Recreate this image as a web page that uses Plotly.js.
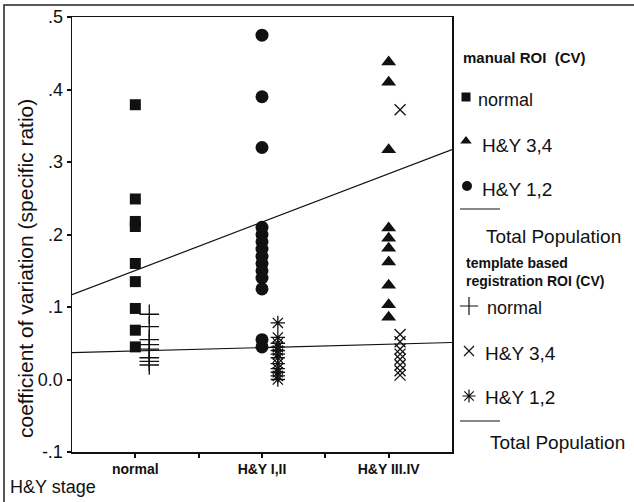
<!DOCTYPE html>
<html>
<head>
<meta charset="utf-8">
<script src="https://cdn.plot.ly/plotly-3.0.1.min.js"></script>
<style>html,body{margin:0;padding:0;background:#fff;}#chart{width:634px;height:502px;}</style>
</head>
<body>
<div id="chart"></div>
<script>
// Categories (H&Y stage) and tick labels
const categories = ['normal', 'H&Y I,II', 'H&Y III.IV'];
const categoryPos = [1, 3, 5];
const yTickVals = [-0.1, 0, 0.1, 0.2, 0.3, 0.4, 0.5];
const yTickText = ['-.1', '0.0', '.1', '.2', '.3', '.4', '.5'];

// manual ROI (CV)
const manualNormal = [0.379, 0.249, 0.218, 0.211, 0.16, 0.135, 0.098, 0.068, 0.045];
const manualHY12 = [0.475, 0.39, 0.32, 0.21, 0.2, 0.19, 0.18, 0.17, 0.16, 0.15, 0.14, 0.125, 0.055, 0.045];
const manualHY34 = [0.438, 0.41, 0.317, 0.209, 0.195, 0.181, 0.162, 0.13, 0.103, 0.086];
const manualFitX = [0, 6];
const manualFitY = [0.117, 0.317];

// template based registration ROI (CV)
const templateNormal = [0.09, 0.073, 0.055, 0.048, 0.042, 0.03, 0.025, 0.02];
const templateHY12 = [0.078, 0.058, 0.05, 0.045, 0.04, 0.035, 0.03, 0.022, 0.015, 0.01, 0.005, 0.0];
const templateHY34 = [0.372, 0.062, 0.052, 0.042, 0.035, 0.028, 0.02, 0.012, 0.006];
const templateFitX = [0, 6];
const templateFitY = [0.037, 0.051];

const W = 634, H = 502;
const plotL = 72, plotR = 452, plotT = 17, plotB = 452;
const tmplOffset = [0.22, 0.25, 0.18];

function rep(v, n) { return new Array(n).fill(v); }

const black = '#111';
const traces = [];
function pts(ys, x, sym, size, open) {
  const m = {symbol: sym, size: size, color: black};
  if (open) m.line = {color: black, width: 1.3};
  traces.push({type: 'scatter', mode: 'markers', x: rep(x, ys.length), y: ys,
    marker: m, xaxis: 'x', yaxis: 'y', showlegend: false, hoverinfo: 'y'});
}
pts(manualNormal, categoryPos[0], 'square', 11, false);
pts(manualHY12, categoryPos[1], 'circle', 13, false);
pts(manualHY34, categoryPos[2], 'triangle-up', 13, false);
pts(templateNormal, categoryPos[0] + tmplOffset[0], 'cross-thin', 14, true);
pts(templateHY12, categoryPos[1] + tmplOffset[1], 'asterisk', 12, true);
pts(templateHY34, categoryPos[2] + tmplOffset[2], 'x-thin', 11, true);

traces.push({type: 'scatter', mode: 'lines', x: manualFitX, y: manualFitY,
  line: {color: black, width: 1.2}, showlegend: false, xaxis: 'x', yaxis: 'y'});
traces.push({type: 'scatter', mode: 'lines', x: templateFitX, y: templateFitY,
  line: {color: black, width: 1.2}, showlegend: false, xaxis: 'x', yaxis: 'y'});

// legend symbols in a pixel-coordinate overlay subplot
const legSym = [
  {x: 466, y: 97, s: 'square', size: 9, open: false},
  {x: 466, y: 141, s: 'triangle-up', size: 10, open: false},
  {x: 467, y: 186, s: 'circle', size: 10, open: false},
  {x: 469, y: 306, s: 'cross-thin', size: 13, open: true},
  {x: 469, y: 351, s: 'x-thin', size: 10, open: true},
  {x: 469, y: 396, s: 'asterisk', size: 11, open: true}
];
legSym.forEach(function (d) {
  const m = {symbol: d.s, size: d.size, color: black};
  if (d.open) m.line = {color: black, width: 1.2};
  traces.push({type: 'scatter', mode: 'markers', x: [d.x], y: [d.y], marker: m,
    xaxis: 'x2', yaxis: 'y2', showlegend: false, hoverinfo: 'skip', cliponaxis: false});
});
traces.push({type: 'scatter', mode: 'lines', x: [460, 500], y: [209, 209], line: {color: black, width: 1.2},
  xaxis: 'x2', yaxis: 'y2', showlegend: false, hoverinfo: 'skip'});
traces.push({type: 'scatter', mode: 'lines', x: [460, 500], y: [421, 421], line: {color: black, width: 1.2},
  xaxis: 'x2', yaxis: 'y2', showlegend: false, hoverinfo: 'skip'});

const F = 'Liberation Sans, Arial, sans-serif';
function ann(text, x, y, size, opts) {
  return Object.assign({text: text, x: x, y: y, xref: 'x2', yref: 'y2', showarrow: false,
    xanchor: 'left', yanchor: 'middle', font: {family: F, size: size, color: black}}, opts || {});
}
const annotations = [
  ann('<b>manual ROI  (CV)</b>', 461, 57, 15),
  ann('normal', 476, 100, 18),
  ann('H&Y 3,4', 480, 145, 19),
  ann('H&Y 1,2', 480, 189, 19),
  ann('Total Population', 484, 236, 19),
  ann('<b>template based</b>', 464, 263, 14),
  ann('<b>registration ROI (CV)</b>', 464, 281, 14),
  ann('normal', 485, 308, 18),
  ann('H&Y 3,4', 483, 353, 19),
  ann('H&Y 1,2', 483, 397, 19),
  ann('Total Population', 488, 442, 19),
  ann('coefficient of variation (specific ratio)', 25, 269, 21, {textangle: -90, xanchor: 'center'}),
  ann('H&Y stage', 8, 487, 18)
];

const layout = {
  width: W, height: H,
  margin: {l: 0, r: 0, t: 0, b: 0},
  paper_bgcolor: '#fff', plot_bgcolor: 'rgba(0,0,0,0)',
  showlegend: false,
  xaxis: {
    domain: [plotL / W, plotR / W], range: [0, 6],
    tickvals: categoryPos.concat([2, 4]),
    ticktext: categories.map(function (c) { return '<b>' + c + '</b>'; }).concat(['', '']),
    ticks: 'outside', ticklen: 4, tickwidth: 2, tickcolor: black,
    showline: true, linecolor: black, linewidth: 1.5, mirror: true,
    showgrid: false, zeroline: false,
    tickfont: {family: F, size: 14, color: black}
  },
  yaxis: {
    domain: [(H - plotB) / H, (H - plotT) / H], range: [-0.1, 0.5],
    tickvals: yTickVals, ticktext: yTickText,
    ticks: 'outside', ticklen: 4, tickwidth: 2, tickcolor: black,
    showline: true, linecolor: black, linewidth: 1.5, mirror: true,
    showgrid: false, zeroline: false,
    tickfont: {family: F, size: 18, color: black}
  },
  xaxis2: {domain: [0, 1], range: [0, W], visible: false, anchor: 'y2', fixedrange: true},
  yaxis2: {domain: [0, 1], range: [H, 0], visible: false, anchor: 'x2', fixedrange: true},
  annotations: annotations,
  shapes: [
    {type: 'rect', xref: 'paper', yref: 'paper', x0: 4 / W, x1: 1.2, y0: -0.1, y1: 1 - 5 / H,
      line: {color: '#222', width: 1.5}}
  ]
};

Plotly.newPlot('chart', traces, layout, {displayModeBar: false, staticPlot: true});
</script>
</body>
</html>
